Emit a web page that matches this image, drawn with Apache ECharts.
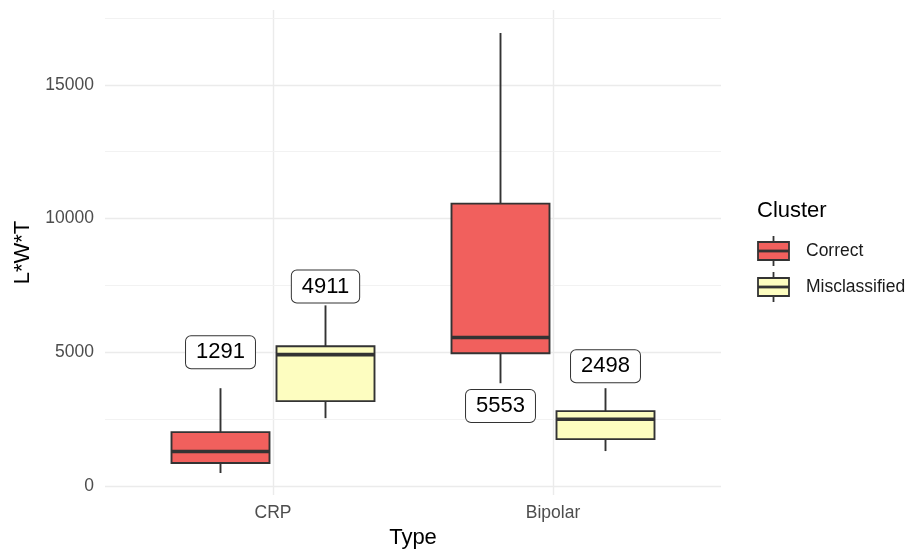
<!DOCTYPE html>
<html>
<head>
<meta charset="utf-8">
<script src="https://cdn.jsdelivr.net/npm/echarts@6/dist/echarts.min.js"></script>
<style>
  html, body { margin: 0; padding: 0; background: #fff; }
  #chart { width: 916px; height: 550px; }
</style>
</head>
<body>
<div id="chart"></div>
<script>
// Categories on the x axis and the two clusters dodged inside each one
const categories = ['CRP', 'Bipolar'];
const clusters = ['Correct', 'Misclassified'];

// Box statistics per category: [lower whisker, Q1, median, Q3, upper whisker]
const correctStats = [
  [485, 858, 1291, 2015, 3657],
  [3843, 4963, 5553, 10560, 16940]
];
const misclassifiedStats = [
  [2537, 3172, 4911, 5224, 6754],
  [1306, 1754, 2498, 2799, 3657]
];

// Value at which each median label is anchored
const correctLabelAt = [5000, 2990];
const misclassifiedLabelAt = [7460, 4480];

// Axis ticks
const yMajorTicks = [0, 5000, 10000, 15000];
const yMinorTicks = [2500, 7500, 12500, 17500];

const fills = ['#F1605D', '#FDFDC0'];
const lineColor = '#333333';
const FONT = '"Liberation Sans", Arial, Helvetica, sans-serif';

const chart = echarts.init(document.getElementById('chart'), null, { renderer: 'canvas' });

// Dodge offsets in category units and half the box width
const dodge = [-0.1875, 0.1875];
const halfBox = 0.175;

function buildData(stats, labelAt) {
  return stats.map((s, i) => [i + 1, s[0], s[1], s[2], s[3], s[4], labelAt[i]]);
}

function makeRenderer(groupIndex) {
  return function (params, api) {
    const xc = api.value(0) + dodge[groupIndex];
    const lo = api.value(1), q1 = api.value(2), med = api.value(3),
          q3 = api.value(4), hi = api.value(5), lab = api.value(6);
    const pTopL = api.coord([xc - halfBox, q3]);
    const pBotR = api.coord([xc + halfBox, q1]);
    const pMedL = api.coord([xc - halfBox, med]);
    const pMedR = api.coord([xc + halfBox, med]);
    const pHi = api.coord([xc, hi]);
    const pQ3 = api.coord([xc, q3]);
    const pQ1 = api.coord([xc, q1]);
    const pLo = api.coord([xc, lo]);
    const pLab = api.coord([xc, lab]);
    const stroke = { stroke: lineColor, lineWidth: 1.9 };
    return {
      type: 'group',
      children: [
        { type: 'line', shape: { x1: pHi[0], y1: pHi[1], x2: pQ3[0], y2: pQ3[1] }, style: stroke },
        { type: 'line', shape: { x1: pQ1[0], y1: pQ1[1], x2: pLo[0], y2: pLo[1] }, style: stroke },
        {
          type: 'rect',
          shape: { x: pTopL[0], y: pTopL[1], width: pBotR[0] - pTopL[0], height: pBotR[1] - pTopL[1] },
          style: { fill: fills[groupIndex], stroke: lineColor, lineWidth: 1.9 }
        },
        { type: 'line', shape: { x1: pMedL[0], y1: pMedL[1], x2: pMedR[0], y2: pMedR[1] }, style: { stroke: lineColor, lineWidth: 3.6 } },
        {
          type: 'text',
          z2: 10,
          style: {
            text: String(med),
            x: pLab[0], y: pLab[1],
            align: 'center', verticalAlign: 'middle',
            font: '22px ' + FONT,
            fill: '#000000',
            backgroundColor: '#ffffff',
            borderColor: '#333333',
            borderWidth: 1,
            borderRadius: 5,
            padding: [5, 10]
          }
        }
      ]
    };
  };
}

// Legend key glyphs (box with whiskers and median), drawn as a graphic group
function legendKey(cy, fill) {
  const x0 = 758, w = 31, cx = x0 + w / 2;
  return [
    { type: 'line', shape: { x1: cx, y1: cy - 15, x2: cx, y2: cy + 15 }, style: { stroke: lineColor, lineWidth: 1.8 } },
    { type: 'rect', shape: { x: x0, y: cy - 9, width: w, height: 18 }, style: { fill: fill, stroke: lineColor, lineWidth: 1.8 } },
    { type: 'line', shape: { x1: x0, y1: cy, x2: x0 + w, y2: cy }, style: { stroke: lineColor, lineWidth: 2.8 } }
  ];
}

const legendGraphics = [
  { type: 'text', left: 757, top: 200, style: { text: 'Cluster', font: '22px ' + FONT, fill: '#000' } }
];
clusters.forEach((name, i) => {
  const cy = 251 + i * 36;
  legendKey(cy, fills[i]).forEach(g => legendGraphics.push(g));
  legendGraphics.push({
    type: 'text',
    style: { text: name, x: 806, y: cy, verticalAlign: 'middle', font: '17.5px ' + FONT, fill: '#1a1a1a' }
  });
});

const option = {
  backgroundColor: '#ffffff',
  animation: false,
  grid: { left: 105, right: 195, top: 10, bottom: 55, containLabel: false, outerBoundsMode: 'none' },
  xAxis: {
    type: 'value',
    min: 0.4,
    max: 2.6,
    name: 'Type',
    nameLocation: 'middle',
    nameGap: 31,
    nameTextStyle: { fontFamily: FONT, fontSize: 22, color: '#000' },
    axisLine: { show: false },
    axisTick: { show: false, customValues: [1, 2] },
    axisLabel: {
      customValues: [1, 2],
      formatter: v => categories[Math.round(v) - 1],
      fontFamily: FONT, fontSize: 17.5, color: '#4D4D4D', margin: 9
    },
    splitLine: { show: true, lineStyle: { color: '#EBEBEB', width: 1.4 } }
  },
  yAxis: {
    type: 'value',
    min: -337,
    max: 17800,
    name: 'L*W*T',
    nameLocation: 'middle',
    nameGap: 70,
    nameRotate: 90,
    nameTextStyle: { fontFamily: FONT, fontSize: 22, color: '#000' },
    axisLine: { show: false },
    axisTick: { show: false, customValues: yMajorTicks },
    axisLabel: {
      customValues: yMajorTicks,
      formatter: v => String(v),
      fontFamily: FONT, fontSize: 17.5, color: '#4D4D4D', margin: 11
    },
    splitLine: { show: true, lineStyle: { color: '#EBEBEB', width: 1.4 } }
  },
  series: [
    {
      // Minor horizontal grid lines, kept beneath the boxes
      name: 'minor-grid',
      type: 'line',
      data: [],
      z: 0,
      silent: true,
      markLine: {
        z: 0,
        silent: true,
        symbol: 'none',
        animation: false,
        label: { show: false },
        lineStyle: { color: '#F2F2F2', width: 1, type: 'solid' },
        data: yMinorTicks.map(v => ({ yAxis: v }))
      }
    },
    {
      name: clusters[0],
      type: 'custom',
      renderItem: makeRenderer(0),
      data: buildData(correctStats, correctLabelAt),
      encode: { x: 0, y: [1, 2, 3, 4, 5, 6] },
      z: 3
    },
    {
      name: clusters[1],
      type: 'custom',
      renderItem: makeRenderer(1),
      data: buildData(misclassifiedStats, misclassifiedLabelAt),
      encode: { x: 0, y: [1, 2, 3, 4, 5, 6] },
      z: 3
    }
  ],
  graphic: legendGraphics
};

chart.setOption(option);
</script>
</body>
</html>
